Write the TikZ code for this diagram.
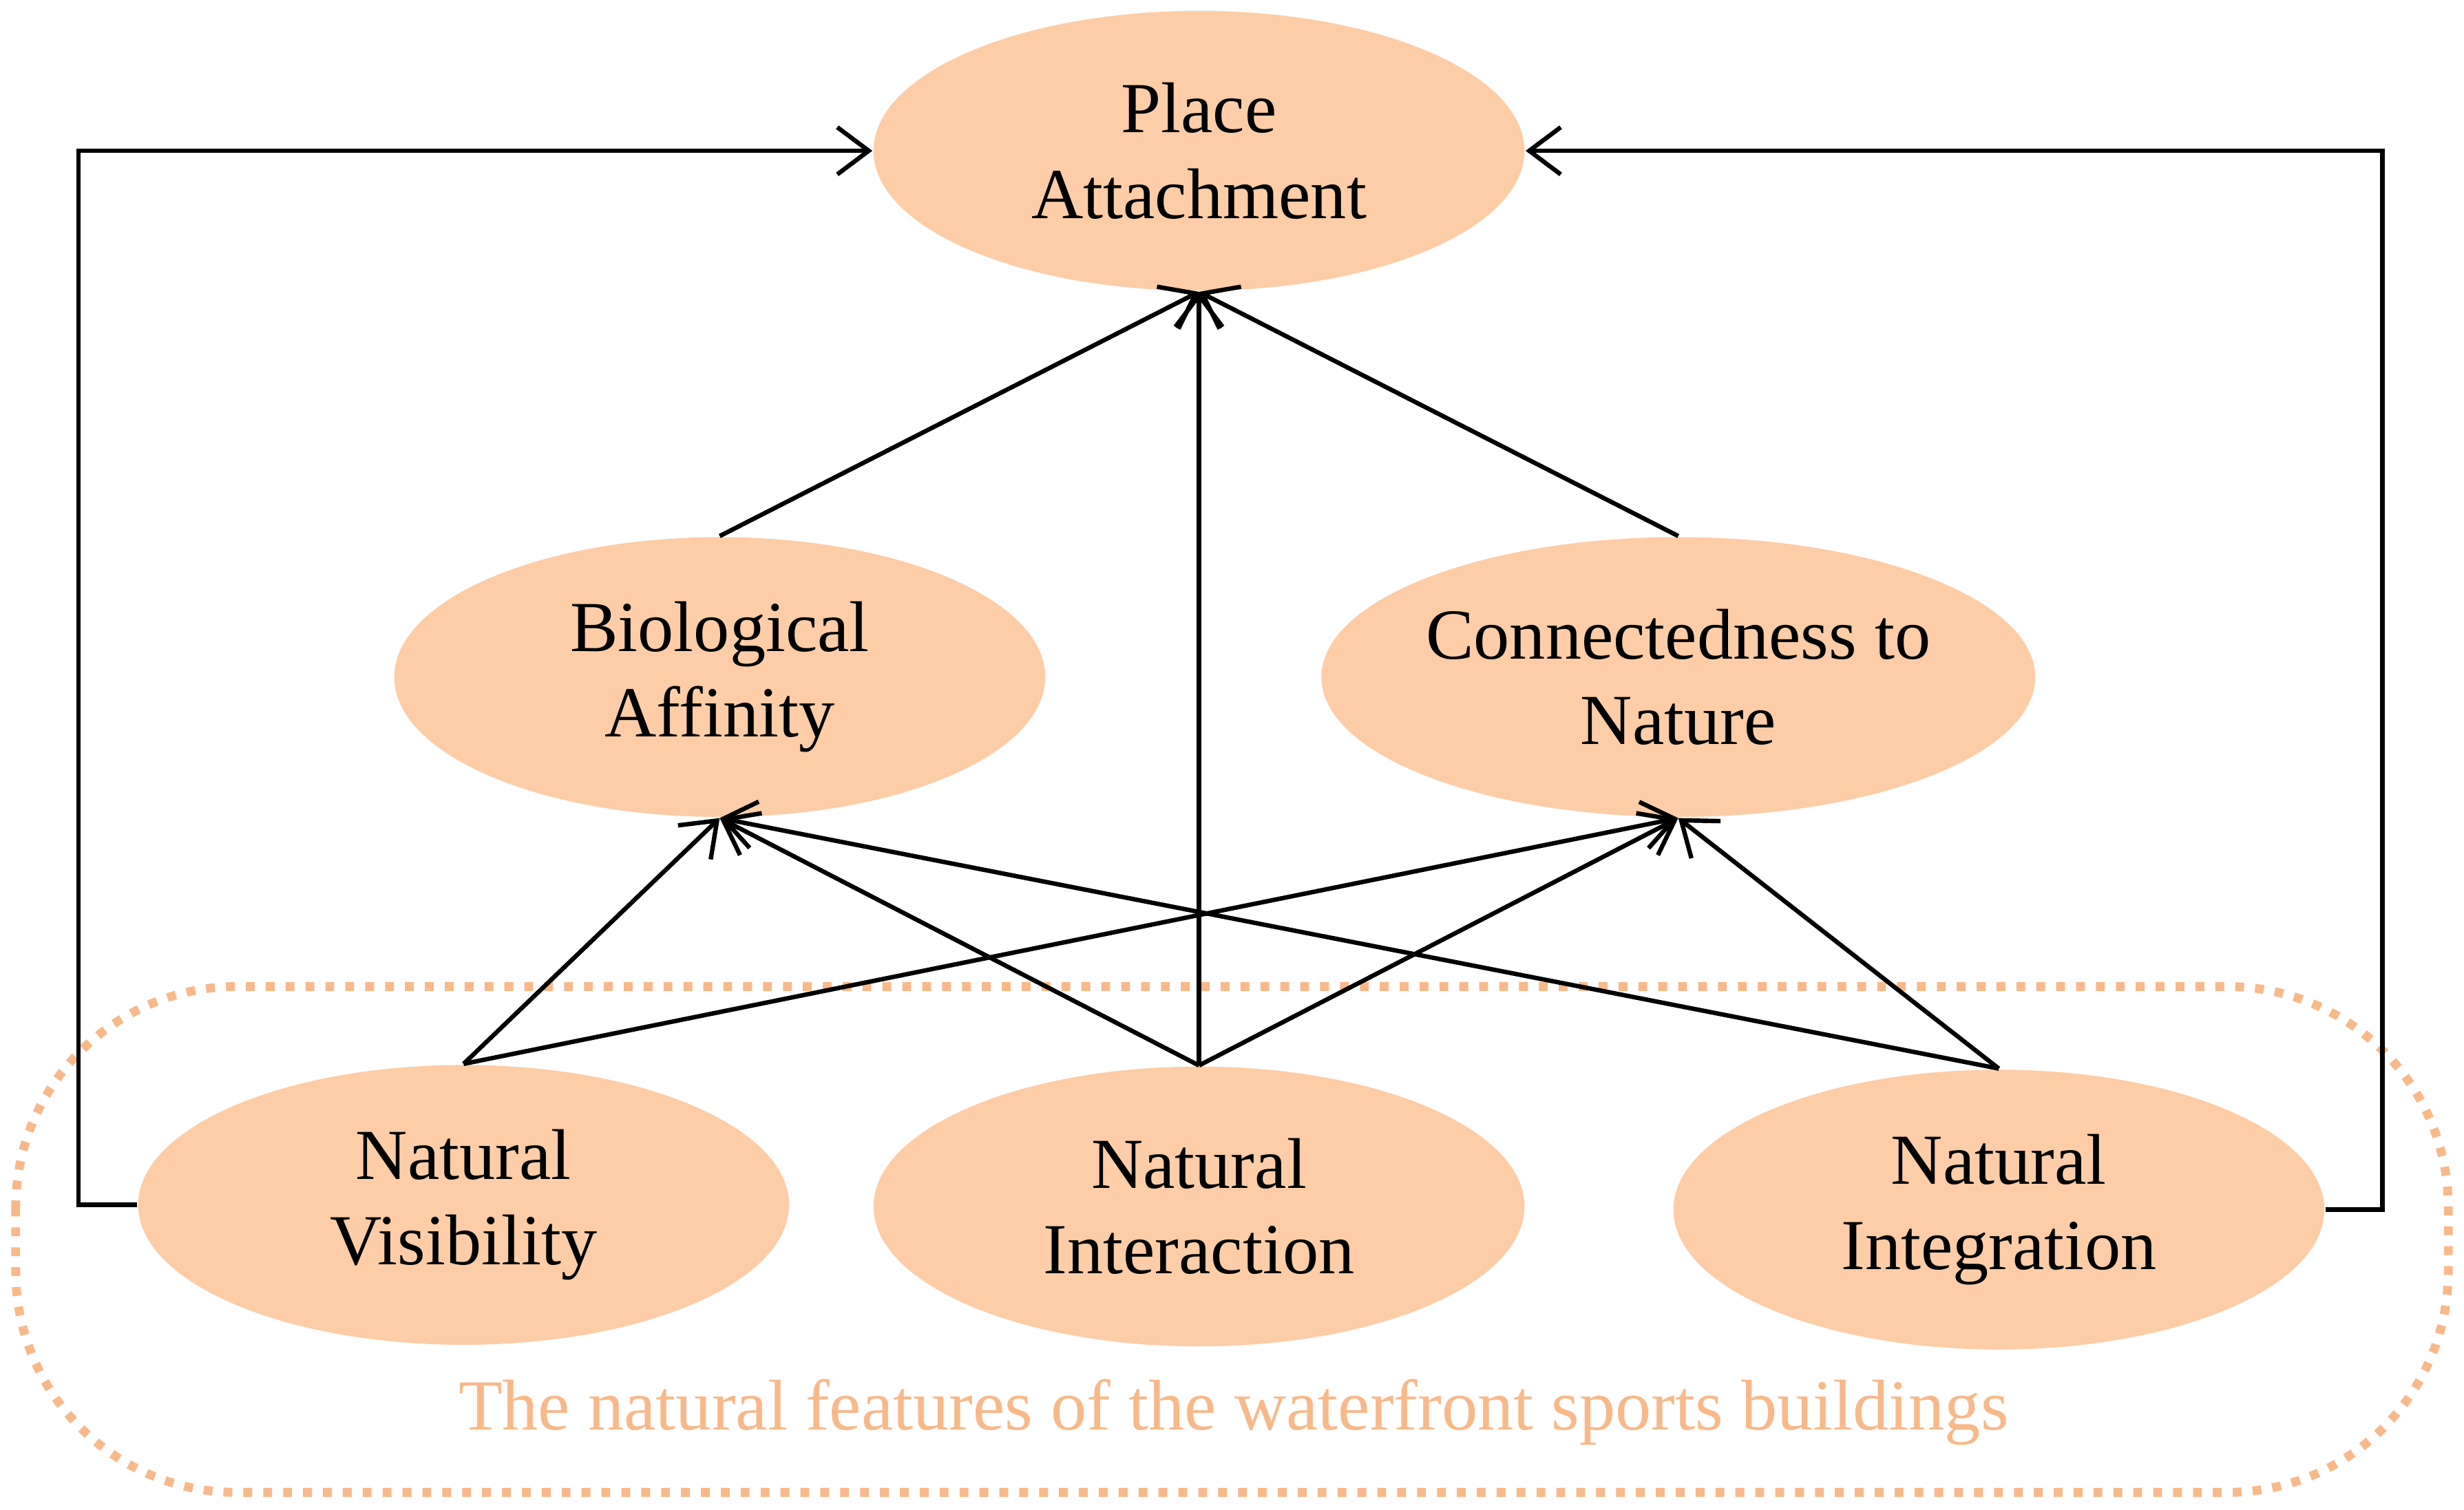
\documentclass[tikz,border=0pt]{standalone}
\usepackage{fontspec}
\setmainfont{Liberation Serif}
\usetikzlibrary{shapes.geometric,arrows.meta}
\definecolor{peach}{HTML}{FDCDA8}
\definecolor{orangetxt}{HTML}{F8B98A}
\begin{document}
\begin{tikzpicture}[x=0.01cm,y=-0.01cm,
  ell/.style={ellipse,fill=peach,minimum width=4.14cm,minimum height=1.78cm,inner sep=0pt,align=center,font=\fontsize{13}{15.5}\selectfont},
  arr/.style={thick,-{Straight Barb[length=2mm,width=3mm]}}]
\useasboundingbox (0,0) rectangle (1568,961);
\node[ell] (pa) at (763,96) {Place\\Attachment};
\node[ell] (bio) at (458,431) {Biological\\Affinity};
\node[ell] (con) at (1068,431) {Connectedness to\\Nature};
\node[ell] (vis) at (295,767) {Natural\\Visibility};
\node[ell] (int) at (763,768) {Natural\\Interaction};
\node[ell] (ing) at (1272,770) {Natural\\Integration};
\draw[orangetxt,line width=1.6pt,dotted,rounded corners=40] (10,628) rectangle (1558,950);
\node[text=orangetxt,font=\fontsize{13}{15}\selectfont] (cap) at (785,899) {The natural features of the waterfront sports buildings};
\coordinate (lc) at (50,767);
\coordinate (rc) at (1516,770);
\draw[arr] (vis.west) -- (lc) |- (pa.west);
\draw[arr] (ing.east) -- (rc) |- (pa.east);
\draw[arr] (bio.north) -- (pa.south);
\draw[arr] (con.north) -- (pa.south);
\draw[arr] (int.north) -- (pa.south);
\foreach \s in {vis,int,ing}{
  \draw[arr] (\s.north) -- (bio.south);
  \draw[arr] (\s.north) -- (con.south);
}
\end{tikzpicture}
\end{document}
